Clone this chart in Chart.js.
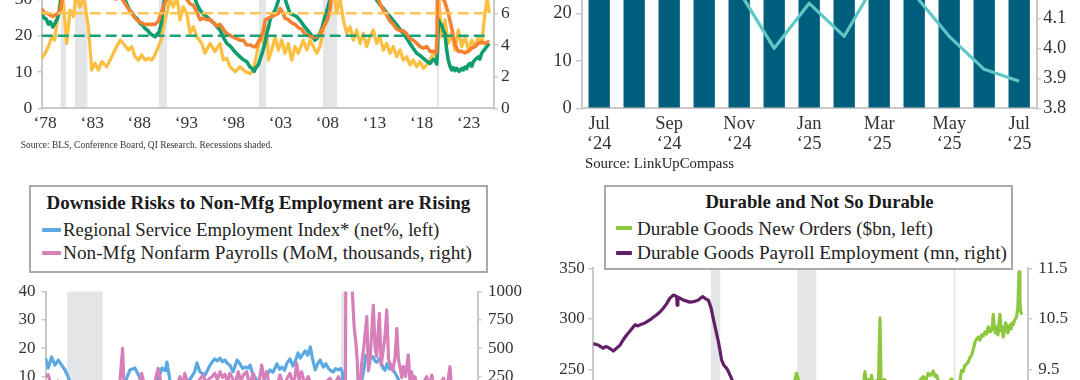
<!DOCTYPE html>
<html><head><meta charset="utf-8">
<script src="https://cdn.jsdelivr.net/npm/chart.js@4.4.1/dist/chart.umd.min.js"></script>
<style>
html,body{margin:0;padding:0;background:#fff;}
body{width:1080px;height:380px;overflow:hidden;position:relative;font-family:"Liberation Serif",serif;color:#222;}
canvas{position:absolute;}
.txt{position:absolute;white-space:nowrap;line-height:1;}
.box{position:absolute;box-sizing:border-box;border:2px solid #a9a9a9;background:#fff;}
.mk{position:absolute;height:4px;border-radius:1px;}
</style></head><body>
<canvas id="cA" width="540" height="200" style="left:0;top:-50px"></canvas>
<canvas id="cB" width="540" height="220" style="left:540px;top:-50px"></canvas>
<canvas id="cC" width="540" height="260" style="left:0;top:280px"></canvas>
<canvas id="cD" width="540" height="280" style="left:540px;top:255px"></canvas>
<script>
// ---------- DATA ----------
// Top-left: years and values (jobs hard to get %, left; unemployment rate %, right; third series, right)
const tlYearTicks = [1978.5,1983.5,1988.5,1993.5,1998.5,2003.5,2008.5,2013.5,2018.5,2023.5];
const tlYearLabels = ["\u201878","\u201883","\u201888","\u201893","\u201898","\u201803","\u201808","\u201813","\u201818","\u201823"];
const tlRecessions = [[1980.15,1980.7],[1981.67,1982.98],[1990.6,1991.45],[2001.23,2001.97],[2008.03,2009.52],[2020.12,2020.35]];
const hardRefLevel = 20;
const yellowRefLevel = 6;
const jobsHard = [[1978.13,26.5],[1978.35,25.0],[1978.6,24.6],[1978.85,23.2],[1979.05,23.8],[1979.3,22.4],[1979.55,23.5],[1979.8,24.8],[1980.0,26.5],[1980.2,30.5],[1980.5,34],[1981.0,33],[1981.6,34],[1982.2,40],[1982.9,45],[1983.6,42],[1984.3,37],[1985.0,35],[1985.8,34],[1986.5,32],[1986.9,30.5],[1987.2,28.6],[1987.45,27.2],[1987.7,26.4],[1988.0,25.3],[1988.3,24.6],[1988.6,23.4],[1988.85,23.0],[1989.1,22.0],[1989.35,21.6],[1989.64,20.7],[1989.9,20.2],[1990.17,19.7],[1990.4,20.5],[1990.6,20.9],[1990.85,23.5],[1991.06,28],[1991.3,32],[1991.8,37],[1992.5,42],[1993.2,40],[1993.8,35],[1994.3,31],[1994.7,28.3],[1994.96,27.1],[1995.3,26],[1995.7,25.2],[1996.02,24.4],[1996.4,23.6],[1996.75,22.5],[1997.08,21.6],[1997.45,19.5],[1997.8,17.9],[1998.15,17.2],[1998.5,16.1],[1998.85,15.1],[1999.21,14.2],[1999.56,13.4],[1999.92,12.9],[2000.27,11.4],[2000.5,11.0],[2000.7,10.2],[2000.9,11.2],[2001.15,12.0],[2001.35,13.6],[2001.6,15.5],[2001.86,18.0],[2002.05,20.7],[2002.25,22.5],[2002.4,24.4],[2002.65,25.8],[2002.93,27.1],[2003.15,28.6],[2003.3,29.9],[2003.55,31.5],[2003.9,31],[2004.2,28.5],[2004.52,26.2],[2004.85,25.8],[2005.23,25.3],[2005.6,24.2],[2005.93,23.0],[2006.3,21.8],[2006.65,20.7],[2006.9,19.8],[2007.18,18.8],[2007.45,19.5],[2007.71,20.7],[2007.95,22.5],[2008.24,25.3],[2008.5,27.5],[2008.77,29.9],[2009.1,35],[2009.6,42],[2010.3,45],[2011.0,44],[2011.8,42],[2012.5,39],[2013.2,34],[2013.73,29.9],[2014.1,28.5],[2014.44,27.6],[2014.8,26.3],[2015.15,25.3],[2015.5,24.2],[2015.86,23.0],[2016.2,21.8],[2016.56,20.7],[2016.92,19.3],[2017.27,17.9],[2017.62,16.5],[2017.99,15.2],[2018.34,14.6],[2018.69,13.8],[2019.05,13.0],[2019.4,12.4],[2019.75,13.5],[2019.93,13.3],[2020.11,12.2],[2020.2,16],[2020.3,24.4],[2020.45,23.5],[2020.64,23.0],[2020.8,21.5],[2020.99,20.7],[2021.15,16.5],[2021.34,13.3],[2021.5,11.8],[2021.7,10.6],[2021.9,11.2],[2022.06,10.4],[2022.24,11.0],[2022.5,10.2],[2022.77,11.0],[2022.94,10.6],[2023.12,11.4],[2023.3,11.0],[2023.47,12.0],[2023.65,12.4],[2023.83,11.6],[2024.0,12.8],[2024.18,13.4],[2024.36,13.8],[2024.53,14.2],[2024.7,13.6],[2024.89,15.2],[2025.06,15.8],[2025.24,16.4],[2025.42,17.0],[2025.59,17.6],[2025.7,17.9]];
const unempRate = [[1978.13,6.3],[1978.4,6.0],[1978.7,6.0],[1979.0,5.9],[1979.3,5.8],[1979.6,5.9],[1979.9,6.0],[1980.15,6.3],[1980.35,7.0],[1980.6,7.7],[1981.0,7.5],[1981.5,7.3],[1981.9,8.4],[1982.5,9.6],[1982.95,10.7],[1983.5,9.8],[1984.0,8.0],[1984.5,7.4],[1985.0,7.3],[1985.5,7.3],[1986.0,6.9],[1986.5,7.0],[1986.8,6.8],[1987.0,6.6],[1987.34,6.3],[1987.7,6.0],[1988.05,5.7],[1988.4,5.5],[1988.76,5.4],[1989.11,5.3],[1989.46,5.3],[1989.82,5.3],[1990.17,5.3],[1990.53,5.5],[1990.81,6.0],[1991.06,6.4],[1991.42,6.9],[1991.77,7.0],[1992.12,7.4],[1992.5,7.7],[1992.83,7.4],[1993.18,7.0],[1993.54,6.9],[1993.89,6.6],[1994.25,6.5],[1994.61,6.1],[1994.96,5.6],[1995.3,5.7],[1995.67,5.6],[1996.02,5.6],[1996.4,5.4],[1996.73,5.2],[1997.08,5.3],[1997.43,5.0],[1997.79,4.7],[1998.15,4.6],[1998.5,4.5],[1998.85,4.4],[1999.21,4.3],[1999.56,4.3],[1999.92,4.0],[2000.27,4.0],[2000.62,3.9],[2000.9,3.9],[2001.15,4.2],[2001.4,4.4],[2001.68,4.9],[2001.9,5.6],[2002.22,5.7],[2002.58,5.8],[2002.93,5.9],[2003.28,6.0],[2003.46,6.3],[2003.7,6.1],[2003.99,5.7],[2004.34,5.6],[2004.7,5.4],[2005.05,5.3],[2005.4,5.1],[2005.75,5.0],[2006.1,4.7],[2006.45,4.6],[2006.8,4.5],[2007.1,4.5],[2007.36,4.5],[2007.71,4.7],[2007.95,5.0],[2008.24,5.3],[2008.5,5.6],[2008.77,6.2],[2009.0,7.5],[2009.3,8.8],[2009.8,10.0],[2010.5,9.5],[2011.0,9.1],[2011.5,9.0],[2012.0,8.3],[2012.5,8.2],[2013.02,7.9],[2013.37,7.5],[2013.73,7.2],[2014.08,6.6],[2014.44,6.2],[2014.8,5.9],[2015.15,5.5],[2015.5,5.3],[2015.86,5.0],[2016.21,4.9],[2016.56,4.9],[2016.92,4.7],[2017.27,4.4],[2017.62,4.3],[2017.99,4.1],[2018.34,3.9],[2018.69,3.8],[2019.05,3.9],[2019.4,3.6],[2019.75,3.6],[2020.05,3.5],[2020.15,4.4],[2020.25,14.7],[2020.45,11.1],[2020.64,8.4],[2020.8,6.9],[2020.99,6.7],[2021.34,6.0],[2021.7,5.1],[2022.06,4.0],[2022.41,3.6],[2022.77,3.6],[2023.12,3.5],[2023.47,3.6],[2023.83,3.8],[2024.18,3.9],[2024.53,4.1],[2024.89,4.2],[2025.24,4.1],[2025.59,4.2],[2025.7,4.2]];
const yellowSeries = [[1978.13,3.16],[1978.49,3.48],[1978.84,3.9],[1979.2,4.52],[1979.5,4.3],[1979.9,6.0],[1980.2,7.2],[1980.45,6.5],[1980.79,4.1],[1981.14,6.2],[1981.49,5.8],[1981.8,7.2],[1982.2,6.4],[1982.6,7.0],[1983.09,5.15],[1983.45,2.42],[1983.8,2.85],[1984.15,2.42],[1984.51,2.95],[1985.04,2.63],[1985.57,3.26],[1986.1,3.9],[1986.46,4.3],[1986.81,4.1],[1987.34,3.68],[1987.7,3.9],[1988.05,3.26],[1988.4,3.05],[1988.76,3.37],[1989.11,3.05],[1989.46,3.16],[1989.82,3.05],[1990.17,3.37],[1990.53,3.9],[1990.81,4.3],[1991.06,5.15],[1991.42,6.0],[1991.77,6.9],[1992.12,6.4],[1992.5,7.1],[1992.83,5.58],[1993.18,6.4],[1993.54,6.0],[1993.89,4.74],[1994.25,5.15],[1994.61,4.52],[1995.14,4.1],[1995.49,3.48],[1996.02,4.1],[1996.55,3.58],[1997.08,4.1],[1997.43,3.05],[1997.79,3.16],[1998.15,2.63],[1998.68,2.32],[1999.21,2.63],[1999.74,2.32],[2000.27,2.2],[2000.62,2.42],[2000.98,3.4],[2001.33,4.52],[2001.68,4.1],[2002.05,5.15],[2002.22,3.05],[2002.58,3.68],[2002.93,4.52],[2003.28,3.68],[2003.64,4.3],[2003.99,3.48],[2004.34,4.1],[2004.7,3.05],[2005.05,3.9],[2005.4,3.48],[2005.93,4.3],[2006.3,3.68],[2006.65,4.3],[2007.0,3.9],[2007.36,3.48],[2007.71,3.9],[2008.06,4.95],[2008.42,5.79],[2008.77,7.0],[2009.2,7.3],[2009.48,6.0],[2009.8,7.0],[2010.19,5.58],[2010.55,4.74],[2010.9,5.15],[2011.25,4.3],[2011.61,4.95],[2011.96,4.1],[2012.31,4.74],[2012.67,3.9],[2013.02,4.52],[2013.37,4.95],[2013.73,4.1],[2014.08,4.52],[2014.44,3.68],[2014.8,4.1],[2015.15,3.48],[2015.5,3.9],[2015.86,3.26],[2016.21,3.68],[2016.56,3.05],[2016.92,3.26],[2017.27,2.74],[2017.62,3.05],[2017.99,2.63],[2018.34,2.95],[2018.69,2.53],[2019.05,2.74],[2019.4,3.05],[2019.75,3.48],[2020.11,3.2],[2020.3,7.2],[2020.64,4.52],[2020.99,5.58],[2021.34,4.1],[2021.7,4.74],[2022.06,3.68],[2022.41,4.95],[2022.77,3.9],[2023.12,4.52],[2023.47,3.68],[2023.83,4.3],[2024.18,3.9],[2024.53,4.52],[2024.89,4.1],[2025.24,6.0],[2025.49,7.0],[2025.7,6.0]];

// Top-right: monthly bars (left) and line (right)
const trMonths = ["Jul","Aug","Sep","Oct","Nov","Dec","Jan","Feb","Mar","Apr","May","Jun","Jul"];
const trYears = ["\u201824","\u201824","\u201824","\u201824","\u201824","\u201824","\u201825","\u201825","\u201825","\u201825","\u201825","\u201825","\u201825"];
const trBars = [28,27,29,27,28,26,29,27,28,27,28,26,27];
const trLine = [4.30,4.28,4.30,4.25,4.19,4.00,4.15,4.04,4.24,4.18,4.04,3.93,3.89];

// Bottom-left: regional service employment index (left) and non-mfg payrolls (right)
const blRecessions = [[2007.92,2009.5],[2020.14,2020.28]];
const serviceIndex = [[2006.95,16.5],[2007.07,13.0],[2007.22,16.9],[2007.37,14.0],[2007.52,15.8],[2007.67,14.0],[2007.82,12.3],[2007.96,9.9],[2008.2,4],[2008.5,-4],[2008.8,-15],[2009.1,-22],[2009.4,-18],[2009.7,-8],[2010.0,-1],[2010.3,5],[2010.55,9],[2010.72,12.3],[2010.94,13.0],[2011.1,10.5],[2011.3,7],[2011.6,5],[2011.9,8],[2012.05,10.5],[2012.15,13.0],[2012.3,12.0],[2012.37,15.1],[2012.5,8.8],[2012.8,5],[2013.1,7],[2013.4,9],[2013.6,11.5],[2013.71,14.8],[2013.84,11.6],[2014.07,10.5],[2014.2,12.5],[2014.29,14.0],[2014.4,15.2],[2014.51,16.2],[2014.62,15.5],[2014.74,16.5],[2014.85,15.2],[2014.96,15.8],[2015.08,14.5],[2015.18,14.0],[2015.32,11.6],[2015.5,15.8],[2015.63,14.4],[2015.75,12.8],[2015.86,13.3],[2015.99,13.0],[2016.08,14.0],[2016.17,11.6],[2016.35,9],[2016.55,7],[2016.75,9.5],[2016.97,12.3],[2017.1,11.5],[2017.28,14.4],[2017.4,12.5],[2017.5,13.3],[2017.62,12.2],[2017.73,14.8],[2017.86,16.2],[2017.99,13.7],[2018.1,15.5],[2018.22,18.3],[2018.32,16.5],[2018.41,17.6],[2018.54,19.0],[2018.65,17.5],[2018.77,20.4],[2018.86,16.5],[2018.99,12.3],[2019.1,14.5],[2019.21,15.8],[2019.35,13.3],[2019.46,14.5],[2019.57,13.0],[2019.68,12.0],[2019.79,11.6],[2019.9,12.8],[2020.02,12.3],[2020.12,12.8],[2020.2,11.6],[2020.28,-10],[2020.4,-35],[2020.6,-15],[2020.8,-2],[2021.0,6],[2021.15,12],[2021.25,17.5],[2021.34,15.8],[2021.45,16.4],[2021.56,17.0],[2021.65,15.5],[2021.74,15.0],[2021.88,16.5],[2022.01,13.0],[2022.1,12.2],[2022.19,14.5],[2022.3,12.6],[2022.41,13.0],[2022.52,11.6],[2022.64,10.0],[2022.8,7],[2023.0,4],[2023.4,2],[2023.8,3],[2024.2,5],[2024.6,2],[2025.0,0],[2025.2,-3]];
const nonMfgPayrolls = [[2006.95,248],[2007.07,265],[2007.2,180],[2007.35,150],[2007.5,210],[2007.65,120],[2007.8,110],[2007.95,60],[2008.2,-50],[2008.45,-120],[2008.7,-300],[2008.9,-600],[2009.1,-700],[2009.3,-550],[2009.5,-350],[2009.7,-200],[2009.9,-90],[2010.1,20],[2010.25,150],[2010.39,499],[2010.5,-80],[2010.7,50],[2010.9,120],[2011.05,90],[2011.24,278],[2011.4,150],[2011.6,110],[2011.8,180],[2011.98,322],[2012.1,200],[2012.3,120],[2012.5,90],[2012.7,150],[2012.85,190],[2012.95,248],[2013.07,170],[2013.17,278],[2013.3,180],[2013.5,200],[2013.7,160],[2013.85,230],[2013.99,263],[2014.1,190],[2014.25,230],[2014.4,250],[2014.51,278],[2014.62,220],[2014.74,292],[2014.85,240],[2014.96,270],[2015.07,200],[2015.18,278],[2015.3,230],[2015.42,180],[2015.55,292],[2015.66,210],[2015.78,263],[2015.93,292],[2016.05,170],[2016.12,220],[2016.22,278],[2016.35,150],[2016.48,200],[2016.6,351],[2016.7,230],[2016.82,292],[2016.95,170],[2017.1,200],[2017.25,160],[2017.42,263],[2017.55,180],[2017.7,220],[2017.86,278],[2017.98,200],[2018.08,240],[2018.16,366],[2018.27,220],[2018.38,292],[2018.5,190],[2018.68,248],[2018.8,180],[2018.95,200],[2019.1,150],[2019.25,200],[2019.4,160],[2019.52,210],[2019.65,234],[2019.8,170],[2019.9,200],[2020.02,248],[2020.1,220],[2020.2,-1500],[2020.28,-3000],[2020.38,2700],[2020.46,4500],[2020.55,1500],[2020.63,1050],[2020.72,700],[2020.8,550],[2020.86,395],[2020.95,-100],[2021.05,350],[2021.15,500],[2021.29,778],[2021.36,300],[2021.43,380],[2021.58,881],[2021.66,500],[2021.73,425],[2021.85,808],[2021.93,350],[2022.0,450],[2022.1,600],[2022.18,837],[2022.26,400],[2022.33,366],[2022.45,300],[2022.55,420],[2022.63,675],[2022.7,400],[2022.77,336],[2022.85,240],[2022.92,340],[2023.02,250],[2023.14,440],[2023.22,200],[2023.29,292],[2023.36,180],[2023.44,248],[2023.55,150],[2023.65,200],[2023.75,180],[2023.85,210],[2023.96,248],[2024.05,170],[2024.12,200],[2024.19,263],[2024.3,120],[2024.4,180],[2024.5,130],[2024.6,200],[2024.71,234],[2024.8,150],[2024.9,200],[2025.0,336],[2025.08,120],[2025.15,219]];

// Bottom-right: durable goods new orders ($bn, left) and durable goods employment (mn, right)
const brRecessions = [[2001.2,2001.92],[2007.92,2009.4],[2020.1,2020.24]];
const durableOrders = [[1992.03,120],[1993.0,125],[1994.0,135],[1995.0,150],[1996.0,160],[1997.0,175],[1998.0,180],[1999.0,190],[2000.0,200],[2000.8,205],[2001.5,185],[2002.5,170],[2003.5,175],[2004.5,190],[2005.5,210],[2006.5,220],[2007.3,225],[2007.6,232],[2007.85,246],[2008.05,238],[2008.3,235],[2008.6,225],[2008.9,190],[2009.2,160],[2009.6,155],[2010.2,175],[2011.0,195],[2012.0,220],[2012.6,225],[2012.9,232],[2013.1,238],[2013.19,247.6],[2013.3,236],[2013.5,240],[2013.6,236],[2013.71,244],[2013.85,232],[2014.0,238],[2014.25,240],[2014.36,301],[2014.45,232],[2014.7,240],[2015.0,236],[2015.5,230],[2016.0,228],[2016.5,230],[2017.0,234],[2017.4,238],[2017.73,242.7],[2017.9,238],[2018.12,246],[2018.3,244],[2018.51,248.3],[2018.65,243],[2018.78,244],[2018.95,236],[2019.3,238],[2019.6,236],[2019.94,240.4],[2020.05,238],[2020.15,215],[2020.3,170],[2020.45,200],[2020.6,240],[2020.72,249],[2020.85,248],[2020.98,254],[2021.1,255],[2021.24,257.5],[2021.37,262],[2021.5,264],[2021.63,270],[2021.76,277],[2021.9,280],[2022.02,282],[2022.15,279],[2022.28,284],[2022.41,283],[2022.54,287],[2022.67,285],[2022.8,292],[2022.93,287],[2023.06,289],[2023.12,293],[2023.18,304.5],[2023.28,290],[2023.36,286],[2023.45,292],[2023.55,284],[2023.63,296],[2023.71,304.5],[2023.8,288],[2023.88,292],[2023.96,282],[2024.05,288],[2024.15,296],[2024.23,292],[2024.32,286],[2024.4,290],[2024.49,294],[2024.57,290],[2024.66,296],[2024.74,294],[2024.83,298],[2024.92,300],[2025.0,302],[2025.1,312],[2025.19,346.6],[2025.26,317],[2025.33,307],[2025.4,304]];
const durableEmployment = [[1992.03,10.01],[1992.25,9.99],[1992.42,9.98],[1992.6,9.95],[1992.81,9.92],[1993.0,9.95],[1993.2,9.93],[1993.4,9.90],[1993.59,9.86],[1993.85,9.92],[1994.11,9.98],[1994.35,10.08],[1994.63,10.18],[1994.95,10.28],[1995.28,10.38],[1995.5,10.36],[1995.67,10.38],[1995.9,10.40],[1996.19,10.44],[1996.55,10.50],[1996.97,10.58],[1997.2,10.63],[1997.48,10.71],[1997.75,10.80],[1998.0,10.91],[1998.26,10.97],[1998.45,10.95],[1998.52,10.94],[1998.56,10.77],[1998.62,10.93],[1998.78,10.91],[1999.05,10.87],[1999.3,10.85],[1999.55,10.83],[1999.82,10.84],[2000.0,10.85],[2000.21,10.87],[2000.4,10.91],[2000.55,10.94],[2000.75,10.9],[2000.99,10.87],[2001.2,10.72],[2001.38,10.5],[2001.55,10.3],[2001.77,10.05],[2002.03,9.68],[2002.2,9.58],[2002.42,9.52],[2002.6,9.43],[2002.81,9.31],[2003.2,9.1],[2003.6,8.98],[2004.5,8.95],[2005.5,8.98],[2006.5,9.0],[2007.5,8.85],[2008.3,8.7],[2008.9,8.2],[2009.5,7.4],[2010.0,7.1],[2011.0,7.3],[2012.5,7.5],[2014.0,7.6],[2015.5,7.8],[2017.0,7.75],[2019.0,8.0],[2020.1,7.95],[2020.3,7.3],[2020.8,7.6],[2022.0,7.9],[2023.0,8.15],[2024.0,8.1],[2025.4,8.0]];

// ---------- TEXT ----------
const tlSource = "Source: BLS, Conference Board, QI Research. Recessions shaded.";
const trSource = "Source: LinkUpCompass";
const blTitle = "Downside Risks to Non-Mfg Employment are Rising";
const blLegend = ["Regional Service Employment Index* (net%, left)", "Non-Mfg Nonfarm Payrolls (MoM, thousands, right)"];
const brTitle = "Durable and Not So Durable";
const brLegend = ["Durable Goods New Orders ($bn, left)", "Durable Goods Payroll Employment (mn, right)"];

// ---------- STYLE ----------
const FONT = '"Liberation Serif", serif';
Chart.defaults.font.family = FONT;
Chart.defaults.color = '#333';
const AX = '#c9c9c9';
const C = {green:'#0f9d6e', orange:'#f58233', yellow:'#fdbf42', gDash:'#17a177', yDash:'#fec654',
  bar:'#005e7d', tq:'#5fc8c5', blue:'#5ba8e2', pink:'#d67fb9', lime:'#8dc63f', purple:'#621e68', shade:'#e4e5e7'};

const shadePlugin = {
  id: 'shade',
  beforeDraw(chart, args, opts) {
    if (!opts || !opts.periods) return;
    const {ctx, chartArea: a} = chart; const x = chart.scales.x;
    ctx.save(); ctx.fillStyle = opts.color;
    for (const p of opts.periods) {
      const x0 = Math.max(a.left, x.getPixelForValue(p[0]));
      const x1 = Math.min(a.right, x.getPixelForValue(p[1]));
      ctx.fillRect(x0, a.top, Math.max(1.5, x1 - x0), a.bottom - a.top);
    }
    ctx.restore();
  }
};
const pts = arr => arr.map(p => ({x: p[0], y: p[1]}));
function yAxis(pos, min, max, step, w, size, pad, tl, cb, extra) {
  const t = {stepSize: step, padding: pad, font: {size: size}, color: '#333', includeBounds: false};
  if (cb) t.callback = cb;
  return Object.assign({
    type: 'linear', position: pos, min: min, max: max, ticks: t,
    grid: {drawOnChartArea: false, drawTicks: true, tickLength: tl, color: AX, lineWidth: 1.5},
    border: {display: true, color: AX, width: 2},
    afterFit: s => { s.width = w; s.paddingTop = 0; s.paddingBottom = 0; }
  }, extra || {});
}
const base = (pad) => ({
  responsive: false, animation: false, devicePixelRatio: 1,
  layout: {padding: pad},
  elements: {point: {radius: 0}, line: {tension: 0, borderJoinStyle: 'round', borderCapStyle: 'butt'}},
  plugins: {legend: {display: false}, tooltip: {enabled: false}}
});

// ---------- CHART A (top-left) ----------
const firstYear = jobsHard[0][0], lastYear = jobsHard[jobsHard.length - 1][0];
const optA = base({top: 13.2, left: 0, right: 0, bottom: 0});
optA.plugins.shade = {periods: tlRecessions, color: C.shade};
optA.scales = {
  x: {type: 'linear', min: 1978.13, max: 2026.2,
    afterBuildTicks: s => { s.ticks = tlYearTicks.map(v => ({value: v})); },
    ticks: {autoSkip: false, maxRotation: 0, padding: 4.5, font: {size: 17.5}, color: '#333', callback: (v, i) => tlYearLabels[i]},
    grid: {display: false, drawTicks: false},
    border: {display: true, color: AX, width: 2},
    afterFit: s => { s.height = 41.6; s.paddingLeft = 0; s.paddingRight = 0; }},
  y: yAxis('left', 0, 40, 10, 41.7, 17.5, 5.5, 4),
  y1: yAxis('right', 0, 9.16, 2, 46, 17.5, 3, 4)
};
new Chart(document.getElementById('cA'), {
  type: 'line',
  data: {datasets: [
    {data: pts([[firstYear, hardRefLevel], [lastYear, hardRefLevel]]), yAxisID: 'y', borderColor: C.gDash, borderWidth: 2.5, borderDash: [11, 5]},
    {data: pts([[firstYear, yellowRefLevel], [lastYear, yellowRefLevel]]), yAxisID: 'y1', borderColor: C.yDash, borderWidth: 2.5, borderDash: [11, 5]},
    {data: pts(unempRate), yAxisID: 'y1', borderColor: C.orange, borderWidth: 3.6},
    {data: pts(jobsHard), yAxisID: 'y', borderColor: C.green, borderWidth: 3.6},
    {data: pts(yellowSeries), yAxisID: 'y1', borderColor: C.yellow, borderWidth: 3.3}
  ]},
  options: optA, plugins: [shadePlugin]
});

// ---------- CHART B (top-right) ----------
const optB = base({top: 15.8, left: 0, right: 0, bottom: 0});
optB.scales = {
  x: {type: 'category', offset: true,
    ticks: {autoSkip: false, maxRotation: 0, padding: 6.2, font: {size: 18.5, lineHeight: 1.08}, color: '#333',
      callback: (v, i) => (i % 2 === 0 ? [trMonths[i], trYears[i]] : '')},
    grid: {display: false, drawTicks: false},
    border: {display: true, color: AX, width: 2},
    afterFit: s => { s.height = 61.7; s.paddingLeft = 0; s.paddingRight = 0; }},
  y: yAxis('left', 0, 30, 10, 41.7, 18.5, 4, 6),
  y1: yAxis('right', 3.8, 4.275, 0.1, 43.3, 18.5, 2.5, 4, v => v.toFixed(1))
};
new Chart(document.getElementById('cB'), {
  type: 'bar',
  data: {labels: trMonths.map((m, i) => m + ' ' + trYears[i]), datasets: [
    {type: 'line', data: trLine, yAxisID: 'y1', borderColor: C.tq, borderWidth: 3.2, pointRadius: 0},
    {type: 'bar', data: trBars, yAxisID: 'y', backgroundColor: C.bar, barPercentage: 0.61, categoryPercentage: 1}
  ]},
  options: optB
});

// ---------- CHART C (bottom-left) ----------
const optC = base({top: 11.5, left: 0, right: 0, bottom: 21.9});
optC.plugins.shade = {periods: blRecessions, color: C.shade};
optC.scales = {
  x: {type: 'linear', display: false, min: 2006.95, max: 2026.23},
  y: yAxis('left', -40, 40, 10, 45.5, 17, 6, 4),
  y1: yAxis('right', -1000, 1000, 250, 62.5, 17, 6.5, 4, v => String(v))
};
new Chart(document.getElementById('cC'), {
  type: 'line',
  data: {datasets: [
    {data: pts(nonMfgPayrolls), yAxisID: 'y1', borderColor: C.pink, borderWidth: 3.2},
    {data: pts(serviceIndex), yAxisID: 'y', borderColor: C.blue, borderWidth: 3.2}
  ]},
  options: optC, plugins: [shadePlugin]
});

// ---------- CHART D (bottom-right) ----------
const optD = base({top: 13.3, left: 0, right: 0, bottom: 14.2});
optD.plugins.shade = {periods: brRecessions, color: C.shade};
optD.scales = {
  x: {type: 'linear', display: false, min: 1992.03, max: 2025.89},
  y: yAxis('left', 100, 350, 50, 53.3, 17, 3.5, 5),
  y1: yAxis('right', 6.5, 11.5, 1, 52, 17, 6.3, 4, v => v.toFixed(1))
};
new Chart(document.getElementById('cD'), {
  type: 'line',
  data: {datasets: [
    {data: pts(durableOrders), yAxisID: 'y', borderColor: C.lime, borderWidth: 3.2},
    {data: pts(durableEmployment), yAxisID: 'y1', borderColor: C.purple, borderWidth: 3.2}
  ]},
  options: optD, plugins: [shadePlugin]
});

// ---------- HTML TEXT (titles, legends, sources) ----------
const mctx = document.createElement('canvas').getContext('2d');
function addBox(l, t, w, h) {
  const d = document.createElement('div'); d.className = 'box';
  Object.assign(d.style, {left: l + 'px', top: t + 'px', width: w + 'px', height: h + 'px'});
  document.body.appendChild(d);
}
function addText(text, left, cy, width, weight, color) {
  mctx.font = weight + ' 100px ' + FONT;
  const size = 100 * width / mctx.measureText(text).width;
  const d = document.createElement('div'); d.className = 'txt'; d.textContent = text;
  Object.assign(d.style, {left: left + 'px', top: (cy - size / 2) + 'px', fontSize: size + 'px', fontWeight: weight, color: color || '#222'});
  document.body.appendChild(d);
}
function addMark(left, cy, w, color) {
  const d = document.createElement('div'); d.className = 'mk';
  Object.assign(d.style, {left: left + 'px', top: (cy - 2) + 'px', width: w + 'px', background: color});
  document.body.appendChild(d);
}
addText(tlSource, 20.8, 146, 252, 400, '#333');
addText(trSource, 585, 163, 149, 400, '#222');

addBox(29, 185, 459, 88);
addText(blTitle, 46.6, 202.5, 424, 700, '#1a1a1a');
addMark(41.5, 230.2, 19, C.blue); addText(blLegend[0], 63, 230.2, 376.4, 400);
addMark(41.5, 252.7, 19, C.pink); addText(blLegend[1], 63, 252.7, 409.3, 400);

addBox(604, 185, 409, 85);
addText(brTitle, 705.4, 202.5, 228.4, 700, '#1a1a1a');
addMark(616, 228.4, 15.7, C.lime); addText(brLegend[0], 637, 228.4, 296, 400);
addMark(616, 252.7, 15.7, C.purple); addText(brLegend[1], 637, 252.7, 370, 400);
</script>
</body></html>
